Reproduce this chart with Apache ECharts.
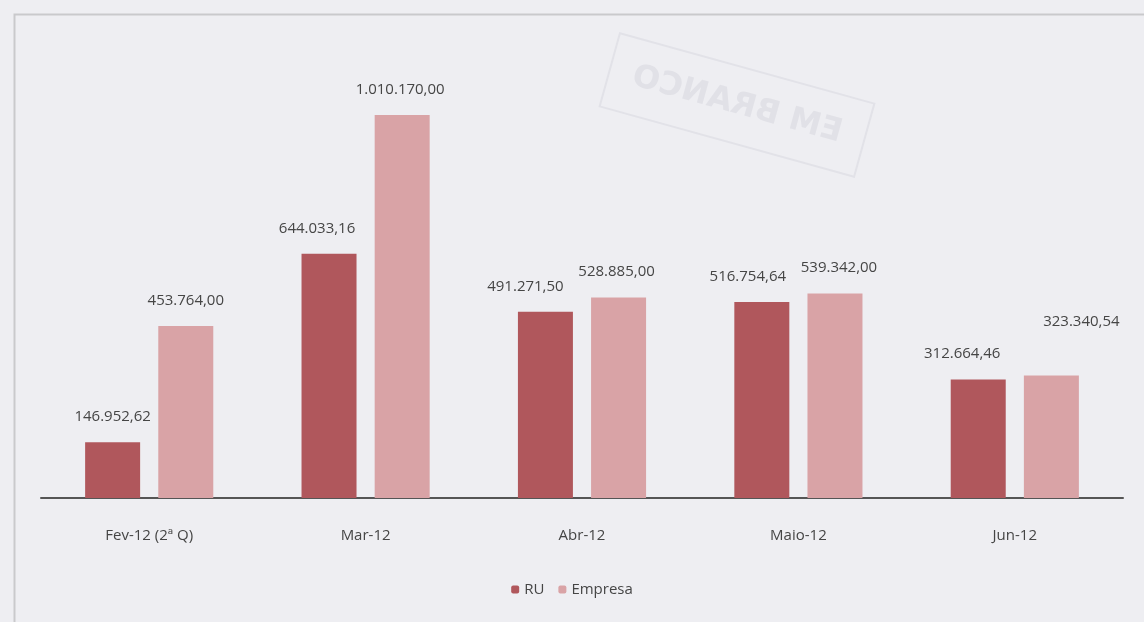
<!DOCTYPE html>
<html>
<head>
<meta charset="utf-8">
<script src="https://cdn.jsdelivr.net/npm/echarts@6/dist/echarts.min.js"></script>
<style>
    html, body { margin: 0; padding: 0; background: #eeeef2; }
    #chart { width: 1144px; height: 622px; }
</style>
</head>
<body>
<div id="chart"></div>
<script>
var categories = ["Fev-12 (2ª Q)", "Mar-12", "Abr-12", "Maio-12", "Jun-12"];
var ruValues = [146952.62, 644033.16, 491271.50, 516754.64, 312664.46];
var empresaValues = [453764.00, 1010170.00, 528885.00, 539342.00, 323340.54];

// label nudges, like the hand-moved labels in the original sheet
var ruOffsets = [[0, 0], [-12, 0], [-20, 0], [-14, 0], [-16, 0]];
var empOffsets = [[0, 0], [-2, 0], [-2, 0], [4, 0], [30, -28]];

function fmt(v) {
    var parts = v.toFixed(2).split(".");
    return parts[0].replace(/\B(?=(\d{3})+(?!\d))/g, ".") + "," + parts[1];
}

function buildData(values, offsets) {
    return values.map(function (v, i) {
        return { value: v, label: { offset: offsets[i] } };
    });
}

var labelStyle = {
    show: true,
    position: "top",
    distance: 18,
    color: "#454545",
    fontFamily: "Open Sans",
    fontSize: 15,
    formatter: function (p) { return fmt(p.value); }
};

var option = {
    backgroundColor: "#eeeef2",
    animation: false,
    grid: { left: 41, right: 21, top: 81, bottom: 124 },
    legend: {
        bottom: 20,
        left: "center",
        itemWidth: 8,
        itemHeight: 8,
        itemGap: 14,
        textStyle: { color: "#454545", fontFamily: "Open Sans", fontSize: 15 },
        data: ["RU", "Empresa"]
    },
    xAxis: {
        type: "category",
        data: categories,
        axisLine: { lineStyle: { color: "#555", width: 2 } },
        axisTick: { show: false },
        axisLabel: { color: "#454545", fontFamily: "Open Sans", fontSize: 15, margin: 30 }
    },
    yAxis: {
        type: "value",
        min: 0,
        max: 1100000,
        show: false,
        splitLine: { show: false }
    },
    series: [
        {
            name: "RU",
            type: "bar",
            barWidth: 55,
            barGap: "33%",
            itemStyle: { color: "#b0575c" },
            label: labelStyle,
            data: buildData(ruValues, ruOffsets)
        },
        {
            name: "Empresa",
            type: "bar",
            barWidth: 55,
            itemStyle: { color: "#d9a3a6" },
            label: labelStyle,
            data: buildData(empresaValues, empOffsets)
        }
    ],
    graphic: [
        {
            type: "rect",
            left: 12, top: 12,
            shape: { width: 1150, height: 640 },
            style: { fill: "none", stroke: "#c9c9cc", lineWidth: 2 },
            z: -1
        },
        {
            // faint stamp showing through the paper
            type: "group",
            x: 737, y: 105,
            rotation: -0.27,
            scaleX: -1,
            children: [
                {
                    type: "rect",
                    shape: { x: -132, y: -38, width: 264, height: 76 },
                    style: { fill: "none", stroke: "#e2e2e8", lineWidth: 2 }
                },
                {
                    type: "text",
                    style: {
                        text: "EM BRANCO",
                        x: 0, y: 0,
                        align: "center",
                        verticalAlign: "middle",
                        font: "bold 32px 'DejaVu Sans'",
                        fill: "#e1e1e7"
                    }
                }
            ],
            z: -1
        }
    ]
};

echarts.init(document.getElementById("chart")).setOption(option);
</script>
</body>
</html>
